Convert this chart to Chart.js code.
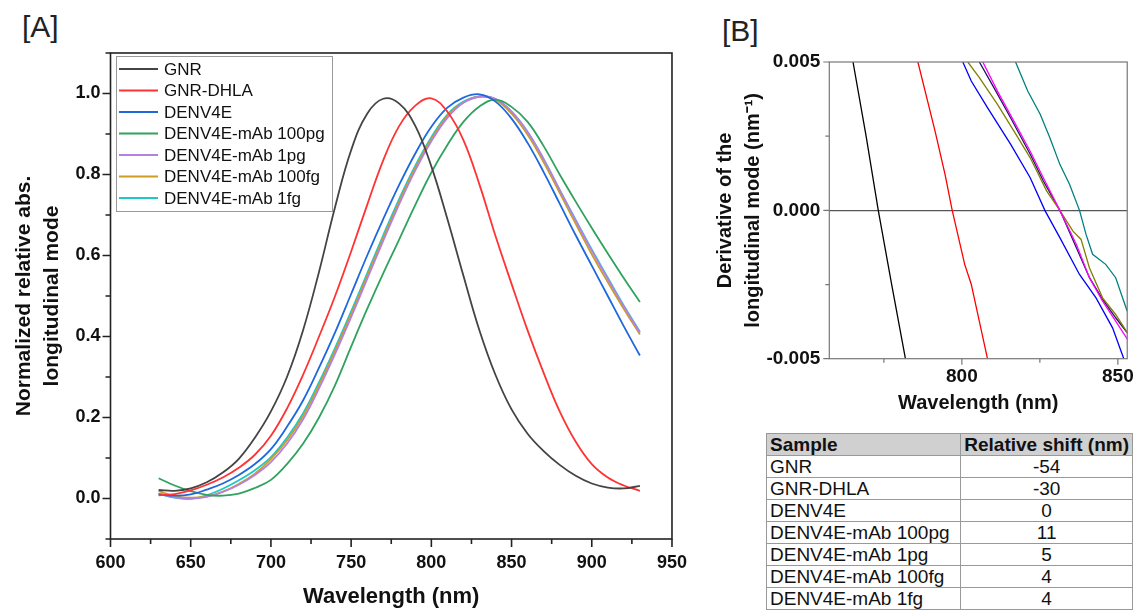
<!DOCTYPE html>
<html>
<head>
<meta charset="utf-8">
<script src="https://cdn.jsdelivr.net/npm/chart.js@4.4.0/dist/chart.umd.min.js"></script>
<style>
  body { margin: 0; width: 1141px; height: 612px; overflow: hidden; background: #fff; position: relative;
         font-family: "Liberation Sans", Arial, sans-serif; }
  canvas { position: absolute; }
  #chartA { left: 0; top: 0; }
  #chartB { left: 700px; top: 0; }
  .tag { position: absolute; font-size: 30px; line-height: 30px; color: #222; }
  #shiftTable { position: absolute; left: 766px; top: 433px; width: 367px; border-collapse: collapse;
                font-size: 19px; color: #111; }
  #shiftTable td { border: 1px solid #999; padding: 0 3px; height: 21px; line-height: 21px; white-space: nowrap; }
  #shiftTable td:nth-child(2) { text-align: center; }
  #shiftTable tr.head td { background: #d0d0d0; font-weight: bold; }
</style>
</head>
<body>
<div class="tag" style="left:22px; top:12px;">[A]</div>
<div class="tag" style="left:722px; top:16px;">[B]</div>
<canvas id="chartA" width="700" height="612"></canvas>
<canvas id="chartB" width="441" height="420"></canvas>
<table id="shiftTable"></table>
<script>
// ---- panel A: normalized spectra ----
const wavelength = [630, 640, 650, 660, 670, 680, 690, 700, 710, 720, 730, 740, 750, 760, 770, 780,
                    790, 800, 810, 820, 830, 840, 850, 860, 870, 880, 890, 900, 910, 920, 930]
const gnr = [0.021, 0.019, 0.025, 0.040, 0.064, 0.098, 0.150, 0.215, 0.300, 0.415, 0.560, 0.720, 0.860, 0.950, 0.987, 0.975,
             0.920, 0.820, 0.690, 0.550, 0.415, 0.305, 0.220, 0.160, 0.117, 0.083, 0.056, 0.037, 0.027, 0.025, 0.031]
const gnrDhla = [0.008, 0.011, 0.020, 0.034, 0.052, 0.076, 0.108, 0.155, 0.222, 0.305, 0.400, 0.500, 0.610, 0.725, 0.835, 0.920,
                 0.970, 0.988, 0.955, 0.885, 0.775, 0.648, 0.530, 0.415, 0.310, 0.215, 0.140, 0.085, 0.052, 0.032, 0.019]
const denv4e = [0.010, 0.007, 0.010, 0.022, 0.037, 0.058, 0.085, 0.122, 0.177, 0.242, 0.323, 0.410, 0.505, 0.600, 0.690, 0.775,
                0.852, 0.918, 0.965, 0.990, 0.998, 0.980, 0.938, 0.878, 0.806, 0.728, 0.650, 0.575, 0.500, 0.425, 0.353]
const mab100pg = [0.050, 0.032, 0.018, 0.009, 0.007, 0.012, 0.026, 0.046, 0.085, 0.135, 0.200, 0.280, 0.375, 0.468, 0.556, 0.640,
                  0.725, 0.805, 0.873, 0.930, 0.968, 0.985, 0.967, 0.930, 0.870, 0.800, 0.733, 0.668, 0.605, 0.544, 0.485]
const mab1pg = [0.012, 0.003, 0.000, 0.004, 0.016, 0.034, 0.058, 0.090, 0.135, 0.195, 0.272, 0.357, 0.448, 0.542, 0.636, 0.727,
                0.810, 0.882, 0.940, 0.977, 0.992, 0.987, 0.955, 0.905, 0.838, 0.762, 0.686, 0.612, 0.542, 0.474, 0.410]
const mab100fg = [0.018, 0.006, 0.002, 0.005, 0.017, 0.036, 0.061, 0.097, 0.143, 0.203, 0.280, 0.365, 0.455, 0.549, 0.643, 0.733,
                  0.816, 0.887, 0.944, 0.978, 0.992, 0.984, 0.950, 0.898, 0.830, 0.755, 0.678, 0.603, 0.534, 0.468, 0.405]
const mab1fg = [0.012, 0.002, -0.001, 0.008, 0.024, 0.045, 0.070, 0.102, 0.150, 0.210, 0.287, 0.372, 0.462, 0.556, 0.650, 0.740,
                0.822, 0.892, 0.948, 0.980, 0.993, 0.986, 0.955, 0.905, 0.838, 0.762, 0.688, 0.615, 0.545, 0.476, 0.412]

const xMajorA = [600, 650, 700, 750, 800, 850, 900, 950]
const xMinorA = [625, 675, 725, 775, 825, 875, 925]
const yMajorA = [0.0, 0.2, 0.4, 0.6, 0.8, 1.0]
const yMinorA = [-0.1, 0.1, 0.3, 0.5, 0.7, 0.9, 1.1]

// ---- panel B: derivative near the zero crossing ----
const gnrDx = [765.1, 769.3, 773.2, 777.5, 781.9]
const gnrDy = [0.005, 0.0025, 0.0, -0.0025, -0.005]
const dhlaDx = [785.9, 791.4, 794.6, 796.9, 800.9, 803.0, 808.2]
const dhlaDy = [0.005, 0.00267, 0.00121, 0.0, -0.00182, -0.00249, -0.005]
const denvDx = [800.3, 803.0, 808.2, 815.6, 821.9, 826.6, 831.4, 837.7, 843.0, 848.3, 851.9]
const denvDy = [0.005, 0.00436, 0.00346, 0.00223, 0.0011, 0.0, -0.00092, -0.00216, -0.00295, -0.00396, -0.005]
const pg100Dx = [817.2, 821.1, 825.1, 828.2, 831.4, 834.5, 837.7, 839.8, 841.9, 846.1, 849.3, 853.0]
const pg100Dy = [0.005, 0.00402, 0.00324, 0.00245, 0.00155, 0.00088, 0.0, -0.00081, -0.00148, -0.00182, -0.00227, -0.0034]
const pg1Dx = [806.7, 811.4, 816.7, 821.9, 826.1, 831.4, 836.7, 840.9, 845.1, 849.3, 853.4]
const pg1Dy = [0.005, 0.00402, 0.00300, 0.00199, 0.0011, 0.0, -0.00115, -0.00227, -0.00306, -0.00373, -0.0044]
const fg100Dx = [801.9, 805.6, 811.4, 816.7, 821.9, 827.2, 831.4, 835.6, 838.2, 840.9, 845.1, 849.3, 853.4]
const fg100Dy = [0.005, 0.00447, 0.00357, 0.00267, 0.00177, 0.00065, 0.0, -0.0007, -0.00098, -0.00194, -0.00295, -0.00351, -0.00418]
const fg1Dx = [805.6, 810.3, 815.6, 821.9, 826.1, 831.4, 836.7, 840.9, 845.1, 849.3, 853.4]
const fg1Dy = [0.005, 0.00413, 0.00312, 0.00189, 0.00099, 0.0, -0.00126, -0.00227, -0.003, -0.00362, -0.00418]

const xMajorB = [800, 850]
const xMinorB = [775, 825]
const yMajorB = [-0.005, 0.0, 0.005]
const yMinorB = [-0.0025, 0.0025]

// ---- table ----
const tableSamples = ['GNR', 'GNR-DHLA', 'DENV4E', 'DENV4E-mAb 100pg', 'DENV4E-mAb 1pg', 'DENV4E-mAb 100fg', 'DENV4E-mAb 1fg']
const tableShifts = ['-54', '-30', '0', '11', '5', '4', '4']

Chart.defaults.font.family = '"Liberation Sans", Arial, sans-serif'
Chart.defaults.color = '#111'
Chart.defaults.animation = false

function xy(xs, ys) {
    return xs.map((x, i) => ({ x: x, y: ys[i] }))
}

function fixedTicks(major, minor) {
    return function (scale) {
        scale.ticks = major.map(v => ({ value: v, major: true }))
            .concat(minor.map(v => ({ value: v, major: false })))
            .sort((a, b) => a.value - b.value)
    }
}

// box around the plot + outward major/minor ticks
const frameTicks = {
    id: 'frameTicks',
    afterDraw(chart, args, opts) {
        const ctx = chart.ctx
        const a = chart.chartArea
        const xs = chart.scales.x
        const ys = chart.scales.y
        ctx.save()
        ctx.strokeStyle = opts.color
        ctx.lineWidth = opts.width
        ctx.strokeRect(a.left, a.top, a.right - a.left, a.bottom - a.top)
        ctx.beginPath()
        xs.ticks.forEach(t => {
            const px = xs.getPixelForValue(t.value)
            ctx.moveTo(px, a.bottom)
            ctx.lineTo(px, a.bottom + (t.major ? opts.major : opts.minor))
        })
        ys.ticks.forEach(t => {
            const py = ys.getPixelForValue(t.value)
            ctx.moveTo(a.left, py)
            ctx.lineTo(a.left - (t.major ? opts.major : opts.minor), py)
        })
        ctx.stroke()
        ctx.restore()
    }
}

// legend drawn inside the plot, top left
const boxLegend = {
    id: 'boxLegend',
    afterDatasetsDraw(chart) {
        const ctx = chart.ctx
        ctx.save()
        ctx.fillStyle = '#fff'
        ctx.fillRect(116.5, 56.5, 216, 155)
        ctx.strokeStyle = '#999'
        ctx.lineWidth = 1
        ctx.strokeRect(116.5, 56.5, 216, 155)
        ctx.font = '17px "Liberation Sans", Arial, sans-serif'
        ctx.textBaseline = 'middle'
        chart.data.datasets.forEach((ds, i) => {
            const y = 69 + i * 21.5
            ctx.strokeStyle = ds.borderColor
            ctx.lineWidth = 2
            ctx.beginPath()
            ctx.moveTo(119, y)
            ctx.lineTo(158, y)
            ctx.stroke()
            ctx.fillStyle = '#111'
            ctx.fillText(ds.label, 164, y + 1)
        })
        ctx.restore()
    }
}

const seriesA = [
    ['GNR', gnr, '#444444'],
    ['GNR-DHLA', gnrDhla, '#ff3333'],
    ['DENV4E', denv4e, '#1f68dc'],
    ['DENV4E-mAb 100pg', mab100pg, '#2fa35e'],
    ['DENV4E-mAb 1pg', mab1pg, '#b380e4'],
    ['DENV4E-mAb 100fg', mab100fg, '#cc9d22'],
    ['DENV4E-mAb 1fg', mab1fg, '#1fc8c8']
]

new Chart(document.getElementById('chartA'), {
    type: 'line',
    data: {
        datasets: seriesA.map(s => ({
            label: s[0],
            data: xy(wavelength, s[1]),
            borderColor: s[2],
            borderWidth: 1.8,
            pointRadius: 0,
            tension: 0.4,
            fill: false
        }))
    },
    options: {
        responsive: false,
        devicePixelRatio: 1,
        layout: { padding: { top: 53, right: 18.3, left: 0, bottom: 0 } },
        plugins: {
            legend: { display: false },
            tooltip: { enabled: false },
            frameTicks: { color: '#222', width: 1.6, major: 8, minor: 5 }
        },
        scales: {
            x: {
                type: 'linear',
                min: 600,
                max: 950,
                afterBuildTicks: fixedTicks(xMajorA, xMinorA),
                afterFit: s => { s.height = 73 },
                grid: { display: false, drawTicks: false },
                border: { display: false },
                ticks: {
                    autoSkip: false, maxRotation: 0, padding: 13,
                    font: { size: 18, weight: 'bold' },
                    callback: (v, i, t) => t[i].major ? String(v) : ''
                },
                title: {
                    display: true, text: 'Wavelength (nm)',
                    font: { size: 22, weight: 'bold' }, padding: { top: 0, bottom: 2 }
                }
            },
            y: {
                min: -0.1,
                max: 1.1,
                afterBuildTicks: fixedTicks(yMajorA, yMinorA),
                afterFit: s => { s.width = 110.5 },
                grid: { display: false, drawTicks: false },
                border: { display: false },
                ticks: {
                    autoSkip: false, padding: 10,
                    font: { size: 18, weight: 'bold' },
                    callback: (v, i, t) => t[i].major ? v.toFixed(1) : ''
                },
                title: {
                    display: true, text: ['Normalized relative abs.', 'longitudinal mode'],
                    font: { size: 21, weight: 'bold', lineHeight: 1.3 }, padding: { top: 11, bottom: 0 }
                }
            }
        }
    },
    plugins: [frameTicks, boxLegend]
})

const seriesB = [
    ['GNR', gnrDx, gnrDy, '#000000'],
    ['GNR-DHLA', dhlaDx, dhlaDy, '#ff0000'],
    ['DENV4E', denvDx, denvDy, '#0000ff'],
    ['DENV4E-mAb 100pg', pg100Dx, pg100Dy, '#008080'],
    ['DENV4E-mAb 1pg', pg1Dx, pg1Dy, '#ff00ff'],
    ['DENV4E-mAb 100fg', fg100Dx, fg100Dy, '#808000'],
    ['DENV4E-mAb 1fg', fg1Dx, fg1Dy, '#1a1a60']
]

new Chart(document.getElementById('chartB'), {
    type: 'line',
    data: {
        datasets: seriesB.map(s => ({
            label: s[0],
            data: xy(s[1], s[2]),
            borderColor: s[3],
            borderWidth: 1.3,
            pointRadius: 0,
            tension: 0,
            fill: false
        }))
    },
    options: {
        responsive: false,
        devicePixelRatio: 1,
        layout: { padding: { top: 62, right: 9, left: 0, bottom: 0 } },
        plugins: {
            legend: { display: false },
            tooltip: { enabled: false },
            frameTicks: { color: '#777', width: 1.2, major: 6, minor: 4 }
        },
        scales: {
            x: {
                type: 'linear',
                min: 757.5,
                max: 853,
                afterBuildTicks: fixedTicks(xMajorB, xMinorB),
                afterFit: s => { s.height = 61.3 },
                grid: { display: false, drawTicks: false },
                border: { display: false },
                ticks: {
                    autoSkip: false, maxRotation: 0, padding: 7,
                    font: { size: 19, weight: 'bold' },
                    callback: (v, i, t) => t[i].major ? String(v) : ''
                },
                title: {
                    display: true, text: 'Wavelength (nm)',
                    font: { size: 20, weight: 'bold' }, padding: { top: 0, bottom: 5 }
                }
            },
            y: {
                min: -0.005,
                max: 0.005,
                afterBuildTicks: fixedTicks(yMajorB, yMinorB),
                afterFit: s => { s.width = 129.3 },
                grid: {
                    drawTicks: false,
                    drawOnChartArea: true,
                    color: c => (c.tick && c.tick.value === 0) ? '#555' : 'rgba(0,0,0,0)',
                    lineWidth: 1.2
                },
                border: { display: false },
                ticks: {
                    autoSkip: false, padding: 9,
                    font: { size: 19, weight: 'bold' },
                    callback: (v, i, t) => t[i].major ? v.toFixed(3) : ''
                },
                title: {
                    display: true, text: ['Derivative of the', 'longitudinal mode (nm\u207B\u00B9)'],
                    font: { size: 20, weight: 'bold', lineHeight: 1.4 }, padding: { top: 11, bottom: 0 }
                }
            }
        }
    },
    plugins: [frameTicks]
})

// table of relative shifts
const table = document.getElementById('shiftTable')
let html = '<tr class="head"><td style="width:195px">Sample</td><td>Relative shift (nm)</td></tr>'
tableSamples.forEach((s, i) => {
    html += '<tr><td>' + s + '</td><td>' + tableShifts[i] + '</td></tr>'
})
table.innerHTML = html
</script>
</body>
</html>
